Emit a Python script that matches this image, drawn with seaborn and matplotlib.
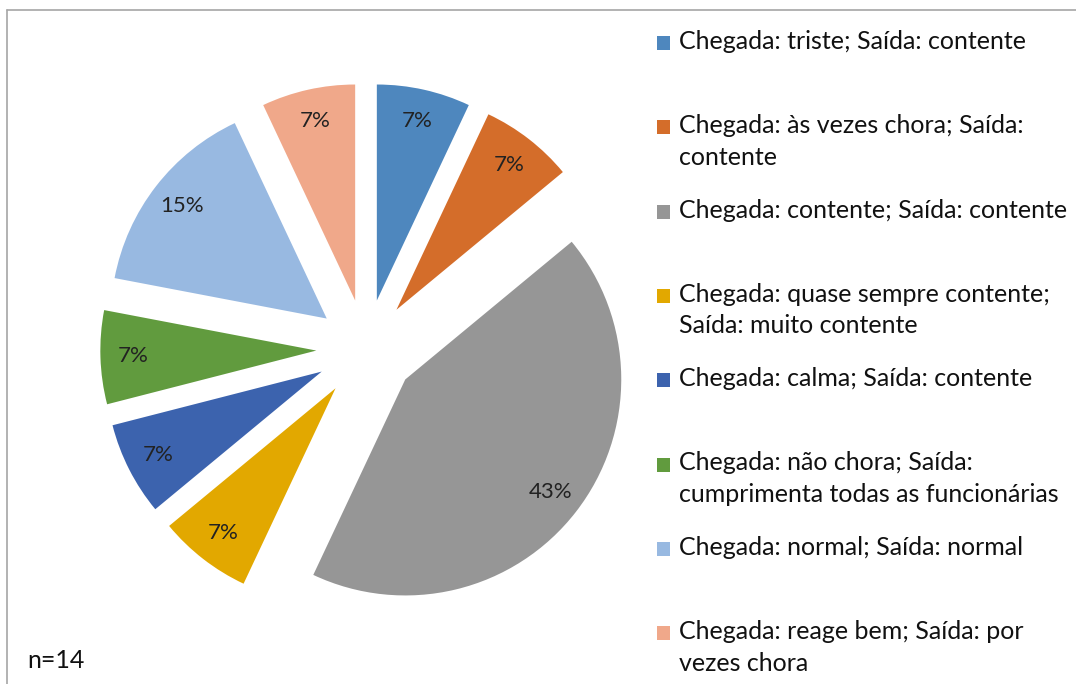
import matplotlib
matplotlib.use('Agg')
import matplotlib.pyplot as plt
import seaborn as sns
from matplotlib.lines import Line2D
from matplotlib.patches import Rectangle

# dados do gráfico
categorias = [
    'Chegada: triste; Saída: contente',
    'Chegada: às vezes chora; Saída:\ncontente',
    'Chegada: contente; Saída: contente',
    'Chegada: quase sempre contente;\nSaída: muito contente',
    'Chegada: calma; Saída: contente',
    'Chegada: não chora; Saída:\ncumprimenta todas as funcionárias',
    'Chegada: normal; Saída: normal',
    'Chegada: reage bem; Saída: por\nvezes chora',
]
percentagens = [7, 7, 43, 7, 7, 7, 15, 7]
cores = ['#4E87BE', '#D46D2A', '#969696', '#E2A800',
         '#3C63AE', '#619B3E', '#98B9E1', '#F0A88A']
n_total = 14

sns.set_theme(style='white')
plt.rcParams['font.family'] = ['Lato', 'DejaVu Sans']

W, H = 1076, 684
fig = plt.figure(figsize=(W / 100, H / 100), dpi=100)

# eixo do gráfico circular (centro ~ (366, 349) px, raio ~216 px)
cx, cy, r = 366, 349, 216
meio = 1.3 * r
ax = fig.add_axes([(cx - meio) / W, (H - cy - meio) / H, 2 * meio / W, 2 * meio / H])
paleta = sns.color_palette(cores)
ax.pie(percentagens, colors=paleta, startangle=90, counterclock=False,
       explode=[0.23] * len(percentagens), autopct='%1.0f%%', pctdistance=0.85,
       wedgeprops={'linewidth': 0},
       textprops={'fontsize': 16, 'color': '#222222'})
ax.set_xlim(-1.3, 1.3)
ax.set_ylim(-1.3, 1.3)
ax.set_aspect('equal')
ax.axis('off')

# legenda manual
y0, passo = 43, 84.3
for i, (cat, cor) in enumerate(zip(categorias, cores)):
    y = y0 + i * passo
    fig.patches.append(Rectangle((657 / W, 1 - (y + 7) / H), 13 / W, 14 / H,
                                 transform=fig.transFigure, facecolor=cor, edgecolor='none'))
    fig.text(679 / W, 1 - (y - 13) / H, cat, ha='left', va='top', fontsize=18,
             color='#111111', linespacing=1.45)

fig.text(27 / W, 1 - 660 / H, f'n={n_total}', ha='left', va='center', fontsize=18, color='#111111')

# moldura
fig.add_artist(Line2D([7 / W, 1], [1 - 10 / H, 1 - 10 / H], color='#A6A6A6', lw=1.2,
                      transform=fig.transFigure))
fig.add_artist(Line2D([7 / W, 7 / W], [0, 1 - 10 / H], color='#A6A6A6', lw=1.2,
                      transform=fig.transFigure))

fig.savefig('out.png', dpi=100)
